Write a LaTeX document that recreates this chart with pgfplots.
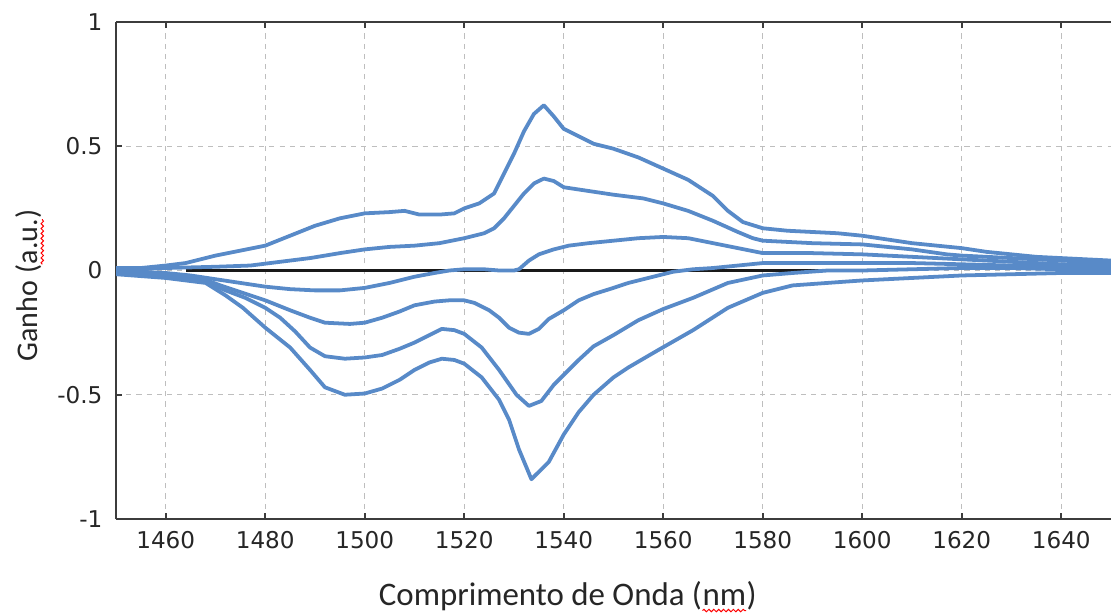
\documentclass[border=0pt]{standalone}
\usepackage{fontspec}
\setmainfont{Carlito}
\newfontfamily\tickfont{DejaVu Sans}
\usepackage{pgfplots}
\pgfplotsset{compat=1.18}
\usetikzlibrary{decorations.pathmorphing}
\definecolor{curve}{RGB}{88,138,200}
\definecolor{gridc}{RGB}{190,190,190}
\definecolor{axisc}{RGB}{60,60,60}
\tikzset{gain/.style={curve, no marks, line width=1.7pt, line join=round}}
% red spell-check wave under a word
\newcommand\spell[1]{\tikz[baseline=(w.base)]{%
  \node[inner sep=0pt, outer sep=0pt, anchor=base, draw=none, fill=none, rotate=0] (w) {#1};
  \draw[red, line width=0.45pt, decorate, decoration={snake, amplitude=0.55pt, segment length=2.2pt}]
    ([yshift=-2.2pt]w.base west) -- ([yshift=-2.2pt]w.base east);}}

\begin{document}
\begin{tikzpicture}
\begin{axis}[
    width=447.75pt, height=223.65pt, scale only axis,
    xmin=1450, xmax=1650, ymin=-1, ymax=1,
    axis x line*=box, axis y line*=left,
    xtick={1460,1480,...,1640}, ytick={-1,-0.5,0,0.5,1},
    tick align=inside, major tick length=2.7pt,
    tick style={axisc, line width=0.7pt},
    axis line style={axisc, line width=1pt},
    grid=major,
    major grid style={gridc, dash pattern=on 2.3pt off 2.3pt, line width=0.5pt},
    /pgf/number format/assume math mode=true,
    ticklabel style={font=\tickfont\fontsize{10.4}{12}\selectfont, text=black!85},
    xticklabel style={/pgf/number format/1000 sep={}, yshift=-2pt},
    yticklabel style={xshift=-2.6pt},
    xlabel={Comprimento de Onda (\spell{nm})},
    ylabel={Ganho (\spell{a.u.})},
    xlabel style={at={(axis description cs:0.454,0)}, anchor=base, yshift=-39pt,
        font=\fontsize{14.8}{16}\selectfont, text=black!85},
    ylabel style={at={(axis description cs:-0.079,0.47)}, anchor=base,
        font=\fontsize{13.5}{16}\selectfont, text=black!85},
]
% zero reference line
\addplot[black!90, line width=1pt, no marks] coordinates {(1464,0) (1597,0)};

% curve A (largest positive gain)
\addplot[gain] coordinates {
(1450,0.01) (1455,0.01) (1460,0.02) (1464,0.03) (1470,0.06) (1475,0.08) (1480,0.10)
(1485,0.14) (1490,0.18) (1495,0.21) (1500,0.23) (1505,0.235) (1508,0.24) (1511,0.225)
(1515,0.225) (1518,0.23) (1520,0.25) (1523,0.27) (1526,0.31) (1528,0.39) (1530,0.47)
(1532,0.56) (1534,0.63) (1536,0.665) (1538,0.62) (1540,0.57) (1543,0.54) (1546,0.51)
(1550,0.49) (1555,0.455) (1560,0.41) (1565,0.365) (1570,0.30) (1573,0.24) (1576,0.195)
(1580,0.17) (1585,0.16) (1590,0.155) (1595,0.15) (1600,0.14) (1605,0.125) (1610,0.11)
(1615,0.10) (1620,0.09) (1625,0.075) (1630,0.065) (1635,0.055) (1640,0.05) (1645,0.045)
(1650,0.04)};

% curve B
\addplot[gain] coordinates {
(1450,0.005) (1460,0.01) (1470,0.015) (1477,0.02) (1483,0.035) (1489,0.05) (1495,0.07)
(1500,0.085) (1505,0.095) (1510,0.10) (1515,0.11) (1520,0.13) (1524,0.15) (1526,0.17)
(1528,0.21) (1530,0.26) (1532,0.31) (1534,0.35) (1536,0.37) (1538,0.36) (1540,0.335)
(1545,0.32) (1550,0.305) (1556,0.29) (1560,0.27) (1565,0.24) (1570,0.20) (1575,0.155)
(1578,0.13) (1580,0.12) (1585,0.115) (1590,0.11) (1600,0.105) (1605,0.095) (1610,0.085)
(1617,0.065) (1620,0.06) (1630,0.05) (1640,0.04) (1650,0.03)};

% curve C (near zero, then small positive gain)
\addplot[gain] coordinates {
(1450,0) (1455,-0.005) (1460,-0.01) (1465,-0.02) (1470,-0.035) (1475,-0.05) (1480,-0.065)
(1485,-0.075) (1490,-0.08) (1495,-0.08) (1500,-0.07) (1505,-0.05) (1510,-0.025)
(1514,-0.01) (1517,0) (1520,0.005) (1524,0.005) (1527,0) (1530,0) (1531,0.005)
(1533,0.04) (1535,0.065) (1538,0.085) (1541,0.10) (1545,0.11) (1550,0.12) (1555,0.13)
(1560,0.135) (1565,0.13) (1570,0.11) (1575,0.09) (1580,0.07) (1590,0.07) (1600,0.065)
(1610,0.055) (1620,0.045) (1630,0.035) (1640,0.025) (1650,0.02)};

% curve D
\addplot[gain] coordinates {
(1450,-0.005) (1460,-0.015) (1467,-0.03) (1471,-0.06) (1475.5,-0.09) (1480,-0.12)
(1485,-0.16) (1489,-0.19) (1492,-0.21) (1497,-0.215) (1500,-0.21) (1503.5,-0.19)
(1507,-0.165) (1510,-0.14) (1514,-0.125) (1517,-0.12) (1520,-0.12) (1522,-0.13)
(1525,-0.16) (1527,-0.19) (1529,-0.23) (1531,-0.25) (1533,-0.255) (1535,-0.235)
(1537,-0.195) (1540,-0.16) (1543,-0.12) (1546,-0.095) (1550,-0.07) (1553,-0.05)
(1556,-0.035) (1559,-0.02) (1562,-0.005) (1566,0.005) (1570,0.01) (1575,0.02)
(1580,0.03) (1590,0.03) (1600,0.03) (1610,0.03) (1620,0.025) (1630,0.02) (1640,0.015)
(1650,0.01)};

% curve E
\addplot[gain] coordinates {
(1450,-0.01) (1460,-0.02) (1467.5,-0.04) (1472,-0.08) (1476,-0.11) (1480,-0.15)
(1483,-0.19) (1486,-0.245) (1489,-0.31) (1492,-0.345) (1496,-0.355) (1500,-0.35)
(1503.5,-0.34) (1507,-0.315) (1510,-0.29) (1513,-0.26) (1515.5,-0.235) (1518,-0.24)
(1520,-0.255) (1523.5,-0.31) (1527,-0.40) (1530.5,-0.50) (1533,-0.545) (1535.5,-0.525)
(1538,-0.46) (1540,-0.42) (1543,-0.36) (1546,-0.305) (1550,-0.26) (1555,-0.20)
(1560,-0.155) (1566,-0.11) (1573,-0.05) (1580,-0.02) (1586,-0.01) (1593,0) (1600,0)
(1610,0.005) (1620,0.01) (1630,0.01) (1640,0.005) (1650,0.005)};

% curve F (largest absorption)
\addplot[gain] coordinates {
(1450,-0.015) (1460,-0.03) (1468,-0.05) (1472,-0.10) (1475.5,-0.15) (1480,-0.23)
(1485,-0.31) (1489,-0.40) (1492,-0.47) (1496,-0.50) (1500,-0.495) (1503.5,-0.475)
(1507,-0.44) (1510,-0.40) (1513,-0.37) (1515.5,-0.355) (1518,-0.36) (1520,-0.375)
(1523.5,-0.43) (1527,-0.52) (1529,-0.60) (1531,-0.72) (1533.5,-0.84) (1535.5,-0.80)
(1537,-0.77) (1540,-0.66) (1543,-0.57) (1546,-0.50) (1550,-0.43) (1553,-0.39)
(1559,-0.32) (1566,-0.24) (1573,-0.15) (1580,-0.09) (1586,-0.06) (1593,-0.05)
(1600,-0.04) (1610,-0.03) (1620,-0.02) (1630,-0.015) (1640,-0.01) (1650,-0.01)};
\end{axis}
\pgfresetboundingbox
\path[use as bounding box] ([xshift=-52.2pt,yshift=-42.75pt]current axis.south west)
    rectangle ([yshift=9.9pt]current axis.north east);
\end{tikzpicture}
\end{document}
